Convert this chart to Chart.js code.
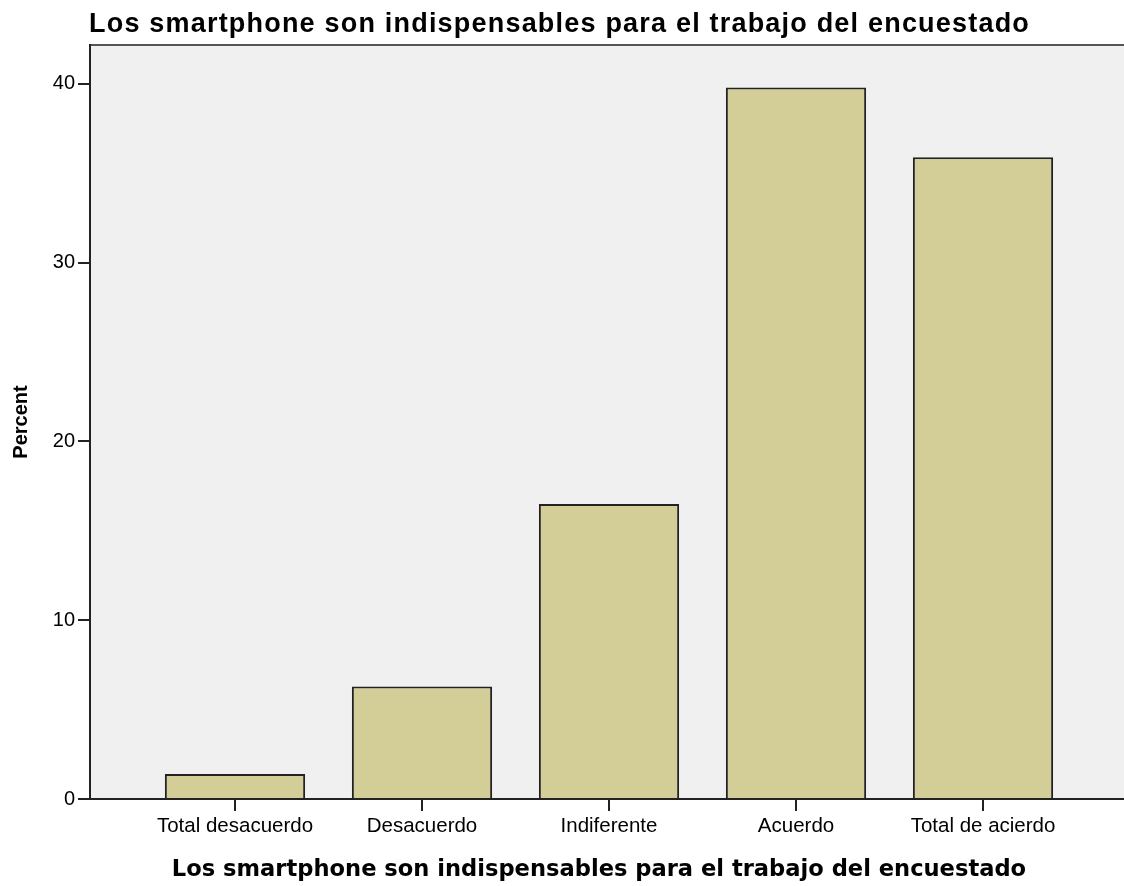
<!DOCTYPE html>
<html>
<head>
<meta charset="utf-8">
<script src="https://cdn.jsdelivr.net/npm/chart.js@4"></script>
<style>
  html, body { margin: 0; padding: 0; background: #fff; }
  #wrap { width: 1124px; height: 886px; }
</style>
</head>
<body>
<div id="wrap"><canvas id="chart" width="1124" height="886"></canvas></div>
<script>
let chartTitle = 'Los smartphone son indispensables para el trabajo del encuestado';
let xAxisTitle = 'Los smartphone son indispensables para el trabajo del encuestado';
let categories = ['Total desacuerdo', 'Desacuerdo', 'Indiferente', 'Acuerdo', 'Total de acierdo'];
let percentValues = [1.4, 6.3, 16.5, 39.8, 35.9];
let yTicks = [0, 10, 20, 30, 40];

let points = percentValues.map(function (v, i) {
    return { x: i + 1, y: v };
});

// plot frame: grey background, top line, main title and x axis title
let framePlugin = {
    id: 'frame',
    beforeDraw: function (chart) {
        let a = chart.chartArea;
        let c = chart.ctx;
        c.save();
        c.fillStyle = '#f0f0f0';
        c.fillRect(a.left, a.top, a.right - a.left, a.bottom - a.top);
        c.strokeStyle = '#555';
        c.lineWidth = 2;
        c.beginPath();
        c.moveTo(a.left, a.top);
        c.lineTo(a.right, a.top);
        c.stroke();
        c.restore();
    },
    afterDraw: function (chart) {
        let a = chart.chartArea;
        let c = chart.ctx;
        c.save();
        c.fillStyle = '#000';
        c.font = 'bold 27px "Liberation Sans", Arial, sans-serif';
        c.letterSpacing = '1.2px';
        c.textBaseline = 'alphabetic';
        c.textAlign = 'left';
        c.fillText(chartTitle, a.left - 1, 32);

        c.letterSpacing = '0px';
        c.font = 'bold 22.6px "DejaVu Sans", Verdana, sans-serif';
        c.textAlign = 'center';
        c.fillText(xAxisTitle, 599, 876);
        c.restore();
    }
};

let ctx = document.getElementById('chart').getContext('2d');
let myChart = new Chart(ctx, {
    type: 'bar',
    data: {
        datasets: [{
            label: 'Percent',
            data: points,
            backgroundColor: '#d3ce97',
            borderColor: '#222',
            borderWidth: 2,
            barPercentage: 1,
            categoryPercentage: 0.75
        }]
    },
    plugins: [framePlugin],
    options: {
        responsive: false,
        animation: false,
        layout: { padding: { top: 45, right: 0, left: 0, bottom: 0 } },
        plugins: {
            legend: { display: false },
            tooltip: { enabled: false }
        },
        scales: {
            x: {
                type: 'linear',
                offset: false,
                min: 0.2246,
                max: 5.754,
                afterBuildTicks: function (scale) {
                    scale.ticks = categories.map(function (c, i) { return { value: i + 1 }; });
                },
                afterFit: function (scale) { scale.height = 87; },
                ticks: {
                    color: '#000',
                    font: { family: '"Liberation Sans", Arial, sans-serif', size: 20.5 },
                    padding: 3,
                    maxRotation: 0,
                    autoSkip: false,
                    callback: function (v) { return categories[Math.round(v) - 1]; }
                },
                grid: { offset: false, drawOnChartArea: false, color: '#222', tickLength: 12, lineWidth: 2 },
                border: { color: '#222', width: 2 }
            },
            y: {
                min: 0,
                max: 42.18,
                afterBuildTicks: function (scale) {
                    scale.ticks = yTicks.map(function (v) { return { value: v }; });
                },
                afterFit: function (scale) { scale.width = 90; },
                ticks: {
                    color: '#000',
                    font: { family: '"Liberation Sans", Arial, sans-serif', size: 20 },
                    padding: 3
                },
                grid: { drawOnChartArea: false, color: '#222', tickLength: 12, lineWidth: 2 },
                border: { color: '#222', width: 2 },
                title: {
                    display: true,
                    text: 'Percent',
                    color: '#000',
                    font: { family: '"Liberation Sans", Arial, sans-serif', size: 20, weight: 'bold' },
                    padding: { top: 9, bottom: 0 }
                }
            }
        }
    }
});
</script>
</body>
</html>
